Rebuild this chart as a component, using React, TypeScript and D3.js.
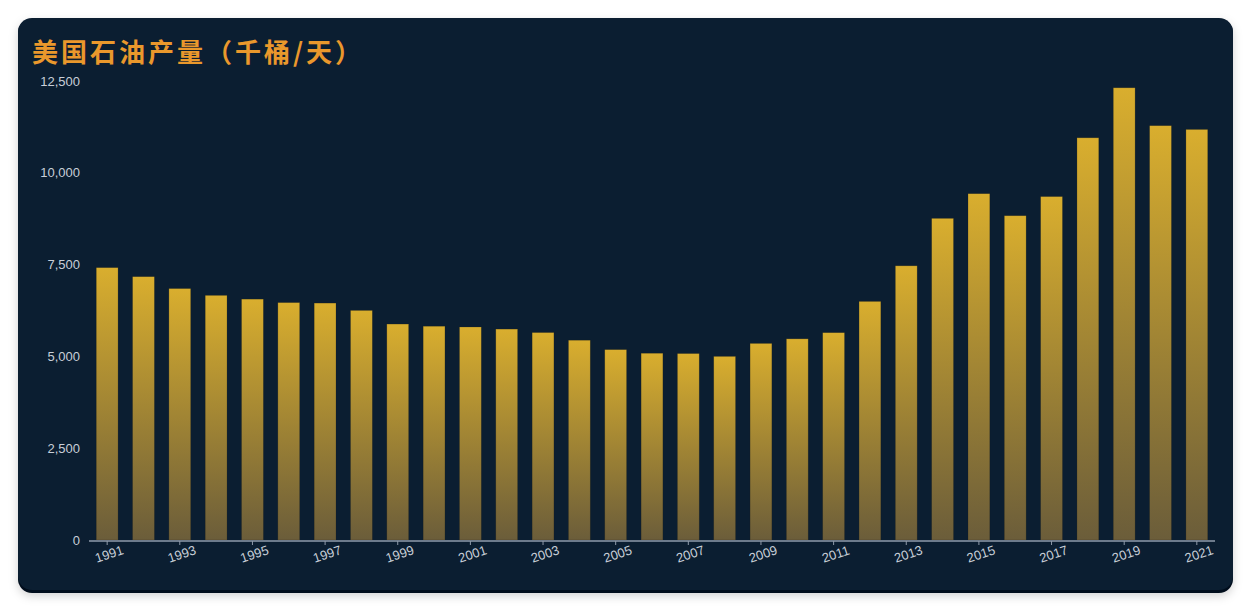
import React from "react";
import * as d3 from "d3";

const years: string[] = [
  "1991","1992","1993","1994","1995","1996","1997","1998","1999","2000",
  "2001","2002","2003","2004","2005","2006","2007","2008","2009","2010",
  "2011","2012","2013","2014","2015","2016","2017","2018","2019","2020","2021",
];
const production: number[] = [
  7417, 7171, 6847, 6662, 6560, 6465, 6452, 6252, 5881, 5822,
  5801, 5744, 5649, 5441, 5184, 5086, 5077, 5000, 5353, 5478,
  5646, 6497, 7467, 8759, 9431, 8831, 9352, 10953, 12315, 11283, 11180,
];
const yTicks: number[] = [0, 2500, 5000, 7500, 10000, 12500];
const title = "美国石油产量（千桶/天）";

const W = 1252;
const H = 612;

export default function App() {
  const left = 89, right = 1215, top = 81, bottom = 540;
  const x = d3.scaleBand<string>().domain(years).range([left, right]).paddingInner(0.4).paddingOuter(0.2);
  const y = d3.scaleLinear().domain([0, 12500]).range([bottom, top]);
  const fmt = d3.format(",");
  const font = "Helvetica, Arial, 'Liberation Sans', sans-serif";
  return (
    <svg width={W} height={H} style={{ position: "absolute", left: 0, top: 0 }}>
      <defs>
        <linearGradient id="barGrad" x1="0" y1="0" x2="0" y2="1">
          <stop offset="0%" stopColor="#d9ae2e" />
          <stop offset="100%" stopColor="#6b5d3a" />
        </linearGradient>
        <filter id="shadow" x="-5%" y="-5%" width="110%" height="115%">
          <feDropShadow dx="0" dy="3" stdDeviation="5" floodColor="#000" floodOpacity="0.18" />
        </filter>
      </defs>
      <rect x={0} y={0} width={W} height={H} fill="#ffffff" />
      <rect x={18} y={19} width={1215} height={574} rx={14} fill="#05101b" filter="url(#shadow)" />
      <rect x={18} y={18} width={1215} height={572} rx={14} fill="#0b1e31" />
      <text x={32} y={62} fill="#ea982c" fontSize={26} fontWeight="bold" letterSpacing={3}
        fontFamily="'Noto Sans CJK SC', sans-serif">{title}</text>
      {yTicks.map((t) => (
        <text key={t} x={80} y={y(t)} dy="0.35em" textAnchor="end" fill="#c8cfd8"
          fontSize={13} fontFamily={font}>{fmt(t)}</text>
      ))}
      {years.map((yr, i) => (
        <rect key={yr} x={x(yr)} y={y(production[i])} width={x.bandwidth()}
          height={bottom - y(production[i])} fill="url(#barGrad)"
          stroke="rgba(40,35,20,0.35)" strokeWidth={0.6} />
      ))}
      <line x1={left} x2={right} y1={bottom + 1} y2={bottom + 1} stroke="#8f9bab" strokeWidth={1.5} />
      {years.map((yr, i) => {
        if (i % 2 !== 0) return null;
        const cx = (x(yr) as number) + x.bandwidth() / 2;
        return (
          <g key={yr}>
            <line x1={cx} x2={cx} y1={bottom + 1} y2={bottom + 5} stroke="#8f9bab" strokeWidth={1} />
            <text transform={`translate(${cx + 2},${bottom + 14}) rotate(-18)`} textAnchor="middle"
              dy="0.35em" fill="#c8cfd8" fontSize={13} fontFamily={font}>{yr}</text>
          </g>
        );
      })}
    </svg>
  );
}
